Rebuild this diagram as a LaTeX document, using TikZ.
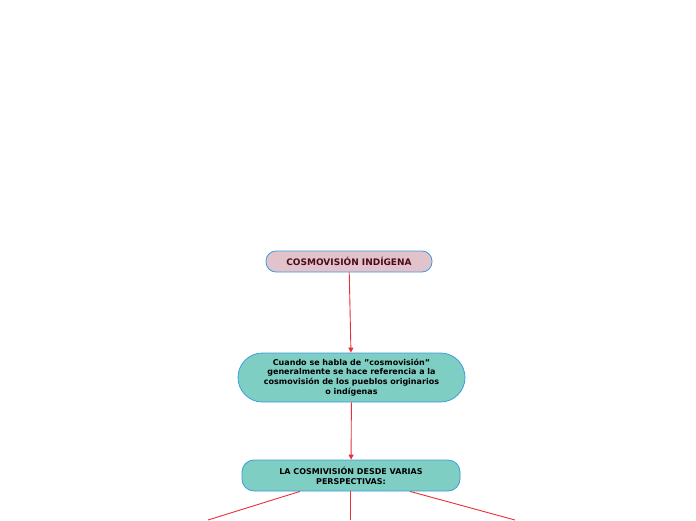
\documentclass[tikz,border=0pt]{standalone}
\usepackage{fontspec}
\setmainfont{DejaVu Sans}[BoldFont={DejaVu Sans Bold}]
\usetikzlibrary{arrows.meta,shapes.misc}
\definecolor{boxline}{HTML}{3A9DE0}
\definecolor{pinkfill}{HTML}{E3C3CB}
\definecolor{tealfill}{HTML}{7ECEC4}
\definecolor{maroon}{HTML}{4A0C1C}
\definecolor{link}{HTML}{E8303A}

\begin{document}
\begin{tikzpicture}[x=1pt,y=-1pt,>={Triangle[length=5pt,width=5pt]},
  main node/.style={rectangle,draw=boxline,line width=0.8pt,
    font=\bfseries\fontsize{8}{9.7}\selectfont,align=center,inner sep=0pt},
  link/.style={color=link,line width=0.9pt}]

  \useasboundingbox[fill=white] (0,0) rectangle (696,520);
  \node[main node,rounded corners=10pt,fill=pinkfill,text=maroon,font=\bfseries\fontsize{9}{10}\selectfont,minimum width=166pt,minimum height=21pt] (cosmo) at (349,261.5) {COSMOVISIÓN INDÍGENA};
  \node[main node,rounded rectangle,fill=tealfill,minimum width=227pt,minimum height=49pt] (def) at (351.5,377.5)
    {Cuando se habla de "cosmovisión"\\generalmente se hace referencia a la\\cosmovisión de los pueblos originarios\\o indígenas};
  \node[main node,rounded corners=12pt,fill=tealfill,minimum width=218pt,minimum height=31pt] (persp) at (351,475.5)
    {LA COSMIVISIÓN DESDE VARIAS\\PERSPECTIVAS:};
  \coordinate (l) at (208,520);
  \coordinate (m) at (350,520);
  \coordinate (r) at (515,520);

  \draw[link,->] (cosmo) -- (def);
  \draw[link,->] (def) -- (persp);
  \draw[link] (persp.south) ++(-51,0) -- (l);
  \draw[link] (persp.south) ++(-1,0) -- (m);
  \draw[link] (persp.south) ++(59,0) -- (r);
\end{tikzpicture}
\end{document}
